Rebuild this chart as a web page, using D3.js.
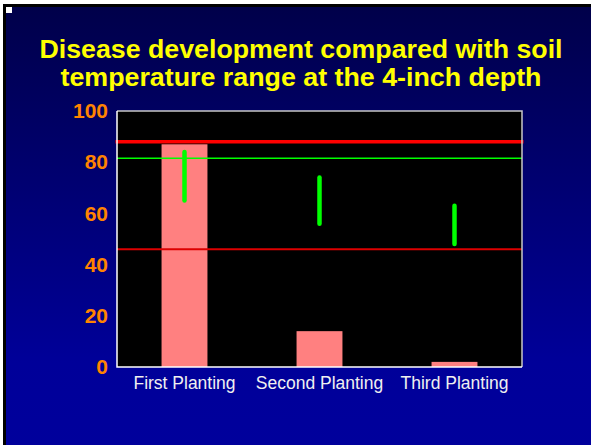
<!DOCTYPE html>
<html>
<head>
<meta charset="utf-8">
<script src="https://cdn.jsdelivr.net/npm/d3@7"></script>
<style>
  html, body { margin: 0; padding: 0; background: #fff; }
  svg { display: block; }
</style>
</head>
<body>
<svg width="591" height="445"></svg>
<script>
// ---- Dados
const categories = ['First Planting', 'Second Planting', 'Third Planting'];
const diseaseValues = [87, 14, 2];
const rangeHigh = [84, 74, 63];
const rangeLow = [65, 56, 48];
const referenceValues = [88, 81.5, 46];
const yTicks = [0, 20, 40, 60, 80, 100];
const titleLines = ['Disease development compared with soil', 'temperature range at the 4-inch depth'];

const svg = d3.select('svg');
const W = 591, H = 445;
const font = 'Arial, "Liberation Sans", sans-serif';

// fundo do slide
const defs = svg.append('defs');
const grad = defs.append('linearGradient')
    .attr('id', 'bg')
    .attr('x1', 0).attr('y1', 0).attr('x2', 0).attr('y2', 1);
grad.append('stop').attr('offset', '0%').attr('stop-color', '#00004a');
grad.append('stop').attr('offset', '80%').attr('stop-color', '#000099');
grad.append('stop').attr('offset', '100%').attr('stop-color', '#00009c');

svg.append('rect').attr('x', 3).attr('y', 4).attr('width', W).attr('height', H).attr('fill', '#000');
svg.append('rect').attr('x', 6).attr('y', 7).attr('width', W).attr('height', H).attr('fill', 'url(#bg)');
svg.append('rect').attr('x', 6).attr('y', 7).attr('width', 6).attr('height', 6).attr('fill', '#fff');

// titulo (largura ajustada ao original)
const titleWidths = [523, 481];
svg.append('g').selectAll('text')
    .data(titleLines)
    .join('text')
    .attr('x', 301)
    .attr('y', (d, i) => 58 + i * 28)
    .attr('text-anchor', 'middle')
    .attr('textLength', (d, i) => titleWidths[i])
    .attr('lengthAdjust', 'spacingAndGlyphs')
    .style('font-family', font)
    .style('font-weight', 'bold')
    .style('font-size', '26.5px')
    .style('fill', '#ffff00')
    .text(d => d);

// ---- Area do grafico
const margin = { left: 117, top: 111, right: 522, bottom: 367 };
const width = margin.right - margin.left;
const height = margin.bottom - margin.top;

const x = d3.scaleBand()
    .domain(categories)
    .range([0, width])
    .paddingInner(0.66)
    .paddingOuter(0.33);

const y = d3.scaleLinear()
    .domain([0, 100])
    .range([height, 0]);

const g = svg.append('g')
    .attr('transform', `translate(${margin.left},${margin.top})`);

g.append('rect')
    .attr('width', width)
    .attr('height', height)
    .attr('fill', '#000');

// barras
g.selectAll('.bar')
    .data(diseaseValues)
    .join('rect')
    .attr('class', 'bar')
    .attr('x', (d, i) => x(categories[i]))
    .attr('y', d => y(d))
    .attr('width', x.bandwidth())
    .attr('height', d => height - y(d))
    .attr('fill', '#ff8080');

// linhas de referencia
const refStyle = [
    { color: '#ff0000', w: 3.5, ext: 1.5 },
    { color: '#00ff00', w: 1.5, ext: 0 },
    { color: '#dd0000', w: 2, ext: 0 }
];
g.selectAll('.ref')
    .data(referenceValues)
    .join('line')
    .attr('class', 'ref')
    .attr('x1', (d, i) => -refStyle[i].ext)
    .attr('x2', (d, i) => width + refStyle[i].ext)
    .attr('y1', d => y(d))
    .attr('y2', d => y(d))
    .attr('stroke', (d, i) => refStyle[i].color)
    .attr('stroke-width', (d, i) => refStyle[i].w);

// faixas de temperatura
g.selectAll('.range')
    .data(categories)
    .join('line')
    .attr('class', 'range')
    .attr('x1', d => x(d) + x.bandwidth() / 2)
    .attr('x2', d => x(d) + x.bandwidth() / 2)
    .attr('y1', (d, i) => y(rangeHigh[i]))
    .attr('y2', (d, i) => y(rangeLow[i]))
    .attr('stroke', '#00ff00')
    .attr('stroke-width', 4.5)
    .attr('stroke-linecap', 'round');

// borda
g.append('path')
    .attr('d', `M0,0H${width}V${height}`)
    .attr('fill', 'none')
    .attr('stroke', '#c8c8c8')
    .attr('stroke-width', 1.5);
g.append('path')
    .attr('d', `M0,0V${height}H${width}`)
    .attr('fill', 'none')
    .attr('stroke', '#ffffff')
    .attr('stroke-width', 1.5);

// Eixo Y
g.append('g')
    .call(d3.axisLeft(y).tickValues(yTicks).tickSize(0).tickPadding(9))
    .call(a => a.select('.domain').remove())
    .selectAll('text')
    .style('font-family', font)
    .style('font-weight', 'bold')
    .style('font-size', '21px')
    .style('fill', '#ff8400');

// Eixo X
g.append('g')
    .attr('transform', `translate(0,${height})`)
    .call(d3.axisBottom(x).tickSize(0).tickPadding(10))
    .call(a => a.select('.domain').remove())
    .selectAll('text')
    .style('font-family', font)
    .style('font-size', '17.5px')
    .style('fill', '#f0f0f0');
</script>
</body>
</html>
